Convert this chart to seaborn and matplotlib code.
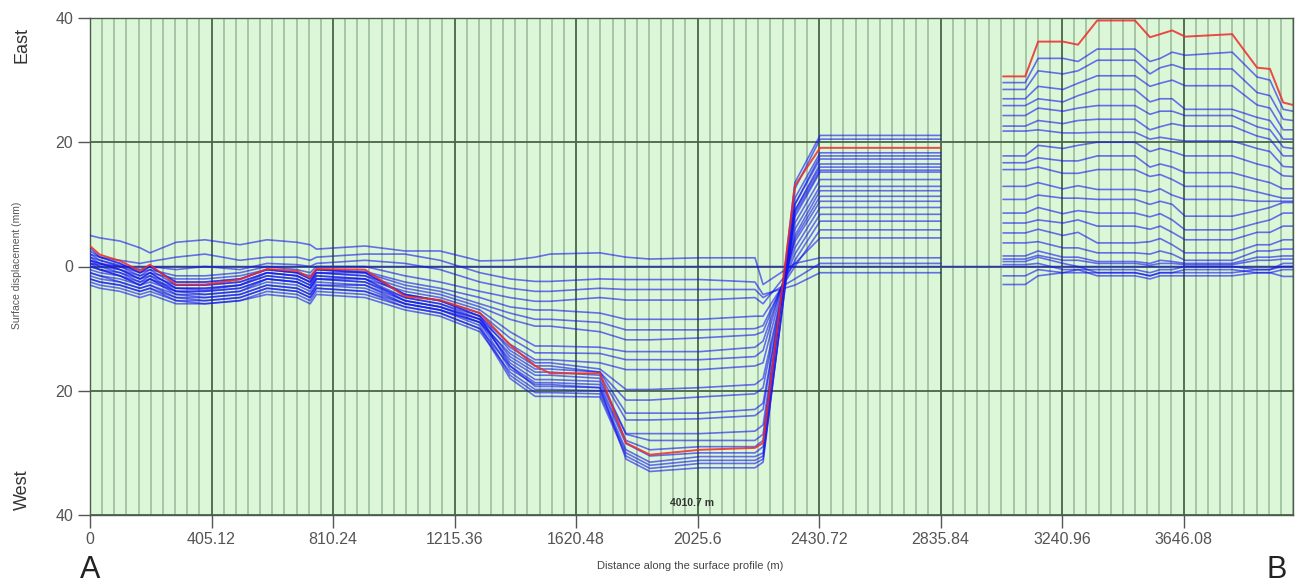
import numpy as np
import pandas as pd
import matplotlib
matplotlib.use("Agg")
import matplotlib.pyplot as plt
import seaborn as sns

# ---------------- data ----------------
# distances (m) of profile vertices, western part and eastern part
x_left = [0, 33, 100, 167, 200, 287, 383, 500, 590, 690, 734, 755, 917, 1050, 1167,
          1300, 1400, 1484, 1534, 1700, 1787, 1867, 2034, 2217, 2244, 2350, 2434, 2836]
x_gap = [2940]
x_right = [3044, 3118, 3161, 3244, 3294, 3358, 3484, 3534, 3568, 3608, 3651, 3808,
           3891, 3934, 3978, 4010.7]

# latest acquisition (red)
red_left = [3.3, 1.9, 0.9, -0.7, 0.3, -2.9, -2.9, -2.1, -0.4, -0.7, -1.8, -0.4, -0.5, -4.8,
            -5.4, -7.5, -12.6, -16.0, -17.2, -17.2, -28.4, -30.3, -29.5, -29.2, -28.4, 13.0, 19.1, 19.1]
red_right = [30.6, 30.6, 36.2, 36.2, 35.7, 39.6, 39.6, 36.9, 37.4, 38.0, 37.0, 37.4, 32.0, 31.8, 26.4, 26.0]

# reference line (continuous through the gap)
zero_left = [0.5, 0.3, 0.0, 0.0, 0.0, 0.0, 0.0, 0.0, 0.0, 0.0, 0.0, 0.0, 0.0, 0.0,
             0.0, 0.0, 0.0, 0.0, 0.0, 0.0, 0.0, 0.0, 0.0, 0.0, 0.0, 0.0, 0.0, 0.0]
zero_gap = [0.0]
zero_right = [0.0, 0.0, 0.0, 0.0, 0.0, 0.0, 0.0, 0.0, 0.0, 0.0, 0.0, 0.0, 0.0, 0.0, 0.0, 0.0]

# earlier acquisitions (blue), western part
b01_l = [5.0, 4.6, 4.1, 3.0, 2.2, 3.9, 4.3, 3.5, 4.3, 3.9, 3.5, 2.8, 3.3, 2.5, 2.5, 0.9, 1.0, 1.5, 2.0, 2.2, 1.5, 1.2, 1.4, 1.4, -2.9, 0.5, 1.4, 1.4]
b02_l = [2.0, 1.5, 1.0, 0.5, 0.8, 1.5, 2.0, 1.0, 1.5, 1.5, 1.0, 1.5, 2.0, 2.0, 1.0, -1.0, -2.0, -2.4, -2.4, -2.0, -2.1, -2.1, -2.1, -2.5, -4.5, -3.0, -1.0, -1.0]
b03_l = [1.5, 1.0, 0.2, -0.5, 0.0, -0.5, 0.0, -0.5, 0.5, 0.3, 0.0, 0.5, 1.0, 0.5, -0.5, -2.5, -3.5, -4.0, -4.0, -3.5, -3.7, -3.7, -3.7, -3.7, -5.0, -2.0, 0.5, 0.5]
b04_l = [1.0, 0.5, 0.0, -1.0, -0.5, -1.5, -1.5, -1.0, 0.0, -0.5, -1.0, 0.0, 0.0, -1.5, -2.5, -4.0, -5.0, -5.6, -5.6, -5.0, -5.4, -5.4, -5.4, -5.0, -6.0, 0.5, 4.6, 4.6]
b05_l = [0.5, 0.0, -0.5, -1.5, -1.0, -2.0, -2.0, -1.5, -0.5, -1.0, -1.5, -0.5, -0.8, -2.5, -3.5, -5.0, -6.5, -7.0, -7.0, -7.5, -8.5, -8.5, -8.5, -8.0, -8.0, 0.0, 5.9, 5.9]
b06_l = [2.5, 1.5, 0.5, -1.0, 0.0, -2.5, -2.5, -2.0, -0.5, -1.0, -2.0, -0.5, -1.0, -3.0, -4.0, -6.0, -7.5, -8.5, -8.5, -9.0, -10.2, -10.2, -10.2, -10.0, -9.5, 1.0, 7.3, 7.3]
b07_l = [0.0, -0.5, -1.0, -2.0, -1.5, -3.0, -3.0, -2.5, -1.0, -1.5, -2.5, -1.0, -1.5, -3.5, -4.5, -6.5, -8.5, -9.6, -9.6, -10.5, -11.8, -11.8, -11.5, -11.0, -10.5, 2.0, 8.4, 8.4]
b08_l = [-0.5, -1.0, -1.5, -2.5, -2.0, -3.5, -3.5, -3.0, -1.5, -2.0, -3.0, -1.5, -2.0, -4.0, -5.0, -7.0, -10.5, -12.8, -12.8, -13.0, -13.7, -13.7, -13.7, -13.0, -12.0, 3.0, 9.5, 9.5]
b09_l = [1.5, 0.5, -0.5, -2.0, -1.0, -3.5, -3.8, -3.0, -1.0, -1.5, -2.5, -1.0, -1.5, -4.5, -5.5, -7.5, -11.5, -13.9, -13.9, -14.0, -15.0, -15.0, -15.0, -14.5, -13.5, 4.0, 10.5, 10.5]
b10_l = [-1.0, -1.5, -2.0, -3.0, -2.5, -4.0, -4.0, -3.5, -2.0, -2.5, -3.5, -2.0, -2.5, -5.0, -6.0, -8.0, -12.5, -15.0, -15.0, -15.5, -16.6, -16.6, -16.6, -16.0, -15.5, 4.5, 11.3, 11.3]
b11_l = [0.0, -0.5, -1.5, -3.0, -2.0, -4.5, -4.5, -4.0, -2.5, -3.0, -4.0, -2.5, -3.0, -5.5, -6.5, -8.5, -13.0, -15.5, -15.5, -16.5, -19.8, -19.8, -19.5, -19.0, -18.0, 5.0, 12.2, 12.2]
b12_l = [2.0, 1.0, 0.0, -1.5, -0.5, -3.0, -3.0, -2.5, -1.0, -1.5, -2.5, -1.0, -1.0, -4.5, -5.5, -8.0, -13.5, -16.0, -16.0, -17.0, -21.5, -21.5, -21.0, -20.5, -19.5, 6.0, 12.9, 12.9]
b13_l = [-1.5, -2.0, -2.5, -3.5, -3.0, -4.5, -5.0, -4.5, -3.0, -3.5, -4.5, -3.0, -3.5, -6.0, -7.0, -9.0, -14.0, -16.5, -16.5, -17.0, -23.6, -23.6, -23.6, -23.0, -22.0, 7.0, 14.0, 14.0]
b14_l = [1.0, 0.0, -1.0, -2.5, -1.5, -4.0, -4.0, -3.5, -2.0, -2.5, -3.5, -2.0, -2.0, -5.0, -6.0, -8.5, -14.5, -17.0, -17.0, -17.5, -24.7, -24.7, -24.5, -24.0, -23.0, 8.0, 15.2, 15.2]
b15_l = [-2.0, -2.5, -3.0, -4.0, -3.5, -5.0, -5.5, -5.0, -3.5, -4.0, -5.0, -3.5, -4.0, -6.0, -7.0, -9.0, -15.0, -17.5, -17.5, -18.0, -26.9, -26.9, -26.9, -26.5, -25.5, 9.0, 16.5, 16.5]
b16_l = [0.5, -0.5, -1.5, -3.0, -2.0, -4.0, -4.5, -4.0, -2.0, -2.5, -3.5, -2.0, -2.5, -5.5, -6.5, -8.5, -15.5, -18.2, -18.2, -18.5, -27.0, -28.0, -28.0, -28.0, -27.0, 10.0, 17.3, 17.3]
b17_l = [-2.5, -3.0, -3.5, -4.5, -4.0, -5.5, -6.0, -5.5, -4.0, -4.5, -5.5, -4.0, -4.5, -6.5, -7.5, -10.0, -16.0, -18.7, -18.7, -19.0, -28.0, -29.5, -29.0, -29.0, -28.0, 11.0, 18.3, 18.3]
b18_l = [3.0, 1.5, 0.5, -1.0, 0.0, -2.5, -2.5, -2.0, -0.5, -1.0, -2.0, -0.5, -1.0, -4.5, -5.5, -8.0, -16.0, -19.3, -19.3, -19.5, -28.5, -30.5, -30.0, -30.0, -29.0, 12.5, 20.5, 20.5]
b19_l = [-3.0, -3.5, -4.0, -5.0, -4.5, -6.0, -6.0, -5.5, -4.5, -5.0, -6.0, -4.5, -5.0, -7.0, -8.0, -10.5, -17.0, -19.8, -19.8, -20.0, -29.5, -31.5, -30.6, -30.6, -30.0, 13.5, 21.1, 21.1]
b20_l = [-1.0, -1.5, -2.5, -3.5, -3.0, -5.0, -5.0, -4.5, -3.0, -3.5, -4.5, -3.0, -3.0, -6.0, -7.0, -9.5, -17.5, -20.3, -20.3, -20.5, -30.0, -32.0, -31.2, -31.2, -30.5, 8.5, 15.5, 15.5]
b21_l = [-2.0, -2.5, -3.0, -4.0, -3.5, -5.5, -5.5, -5.0, -3.5, -4.0, -5.0, -3.5, -4.0, -6.5, -7.5, -10.0, -18.0, -20.9, -20.9, -21.0, -30.5, -32.5, -31.7, -31.7, -31.0, 9.0, 16.0, 16.0]
b22_l = [1.0, 0.5, -0.5, -2.0, -1.0, -3.5, -3.5, -3.0, -1.5, -2.0, -3.0, -1.5, -2.0, -5.5, -6.5, -9.0, -16.5, -19.0, -19.0, -19.5, -31.0, -33.0, -32.4, -32.4, -31.5, 10.0, 17.8, 17.8]

# earlier acquisitions (blue), eastern part
b01_r = [1.2, 1.2, 1.8, 1.0, 1.0, 0.5, 0.5, 0.2, 0.5, 0.5, 0.3, 0.3, 1.0, 1.0, 1.2, 1.2]
b02_r = [-2.9, -2.9, -1.5, -1.0, -0.5, -0.5, -0.5, -1.0, -0.5, -0.5, 0.0, 0.0, -0.5, -0.5, 0.0, 0.0]
b03_r = [-1.5, -1.5, -0.5, -1.0, -1.0, -1.0, -1.0, -1.5, -1.0, -1.0, -0.5, -0.5, -1.0, -1.0, -0.5, -0.5]
b04_r = [0.3, 0.3, 0.5, -0.5, -0.5, -1.5, -1.5, -2.0, -1.5, -1.5, -1.5, -1.5, -1.0, -1.0, -1.6, -1.6]
b05_r = [0.8, 0.8, 1.5, 0.5, 0.0, -1.0, -1.0, -1.5, -1.0, -1.0, -1.0, -1.0, -0.5, -0.5, 0.5, 0.5]
b06_r = [1.7, 1.7, 2.5, 1.5, 1.5, 0.8, 0.8, 0.5, 1.0, 0.8, 0.5, 0.5, 1.5, 1.5, 1.7, 1.7]
b07_r = [3.8, 3.8, 4.0, 3.0, 3.0, 2.2, 2.2, 2.0, 2.5, 2.0, 1.0, 1.0, 2.5, 2.5, 2.8, 2.8]
b08_r = [5.4, 5.4, 6.0, 5.0, 5.5, 3.8, 3.8, 4.0, 4.5, 3.5, 2.2, 2.2, 3.5, 3.5, 4.3, 4.3]
b09_r = [7.0, 7.0, 7.5, 7.0, 7.5, 6.5, 6.5, 6.0, 6.5, 5.5, 4.3, 4.3, 5.5, 5.5, 6.5, 6.5]
b10_r = [8.6, 8.6, 9.5, 8.5, 9.0, 8.6, 8.6, 8.0, 8.5, 7.5, 5.9, 5.9, 7.0, 7.5, 8.6, 8.6]
b11_r = [10.8, 10.8, 11.5, 11.0, 11.0, 10.8, 10.8, 10.0, 10.5, 10.0, 8.1, 8.1, 9.0, 9.5, 10.3, 10.3]
b12_r = [12.9, 12.9, 13.5, 12.5, 13.0, 12.4, 12.4, 12.0, 12.5, 11.5, 10.8, 10.8, 10.5, 10.5, 10.5, 10.5]
b13_r = [15.6, 15.6, 16.0, 15.0, 15.0, 15.6, 15.6, 14.5, 14.8, 14.0, 12.9, 12.9, 12.0, 11.5, 11.0, 11.0]
b14_r = [16.7, 16.7, 17.5, 17.0, 17.0, 17.8, 17.8, 16.0, 16.5, 16.0, 15.1, 15.1, 14.0, 13.5, 12.5, 12.5]
b15_r = [17.8, 17.8, 19.5, 19.0, 19.5, 20.0, 20.0, 18.5, 19.0, 18.5, 17.8, 17.8, 16.5, 16.0, 14.6, 14.5]
b16_r = [21.8, 21.8, 22.0, 21.5, 21.5, 21.6, 21.6, 20.5, 20.8, 20.5, 20.2, 20.2, 19.0, 18.5, 16.1, 16.0]
b17_r = [22.6, 22.6, 23.5, 23.0, 23.5, 23.7, 23.7, 22.0, 22.5, 23.0, 22.6, 22.6, 21.0, 20.5, 17.8, 17.8]
b18_r = [24.3, 24.3, 25.5, 25.0, 25.5, 25.9, 25.9, 24.5, 25.0, 25.0, 24.3, 24.3, 22.5, 22.0, 19.2, 19.0]
b19_r = [25.9, 25.9, 27.0, 26.5, 27.5, 28.5, 28.5, 26.5, 27.0, 27.0, 25.3, 25.3, 24.0, 23.5, 20.5, 20.5]
b20_r = [27.0, 27.0, 29.0, 28.5, 29.5, 30.7, 30.7, 29.0, 29.5, 30.0, 29.1, 29.1, 26.0, 25.5, 22.0, 22.0]
b21_r = [28.5, 28.5, 31.5, 31.0, 31.5, 33.2, 33.2, 31.0, 32.0, 32.5, 31.8, 31.8, 28.0, 27.5, 23.7, 23.5]
b22_r = [29.6, 29.6, 33.5, 33.5, 33.0, 35.0, 35.0, 33.0, 33.5, 34.5, 34.0, 34.5, 30.5, 30.0, 25.3, 25.0]

x_tick_values = [0, 405.12, 810.24, 1215.36, 1620.48, 2025.6, 2430.72, 2835.84, 3240.96, 3646.08]
x_tick_labels = ["0", "405.12", "810.24", "1215.36", "1620.48", "2025.6", "2430.72",
                 "2835.84", "3240.96", "3646.08"]
y_tick_values = [-40, -20, 0, 20, 40]
y_tick_labels = ["40", "20", "0", "20", "40"]
profile_length = 4010.7

# --------------- assemble long-form table ---------------
blue_left = [b01_l, b02_l, b03_l, b04_l, b05_l, b06_l, b07_l, b08_l, b09_l, b10_l, b11_l,
             b12_l, b13_l, b14_l, b15_l, b16_l, b17_l, b18_l, b19_l, b20_l, b21_l, b22_l]
blue_right = [b01_r, b02_r, b03_r, b04_r, b05_r, b06_r, b07_r, b08_r, b09_r, b10_r, b11_r,
              b12_r, b13_r, b14_r, b15_r, b16_r, b17_r, b18_r, b19_r, b20_r, b21_r, b22_r]

rows = []
def add(unit, kind, xs, ys):
    for xv, yv in zip(xs, ys):
        rows.append({"unit": unit, "kind": kind, "dist": xv, "disp": yv})

add("zero", "blue", x_left + x_gap + x_right, zero_left + zero_gap + zero_right)
for i, (bl, br) in enumerate(zip(blue_left, blue_right)):
    add(f"b{i}_L", "blue", x_left, bl)
    add(f"b{i}_R", "blue", x_right, br)
add("red_L", "red", x_left, red_left)
add("red_R", "red", x_right, red_right)
df = pd.DataFrame(rows)

# --------------- figure ---------------
sns.set_style("white")
plt.rcParams["font.family"] = ["Liberation Sans Narrow", "Liberation Sans", "DejaVu Sans"]

W, H = 1297, 586
fig = plt.figure(figsize=(W / 100, H / 100), dpi=100)
ax = fig.add_axes([90 / W, 1 - 515 / H, (1293 - 90) / W, (515 - 18) / H])
ax.set_facecolor("#dbf7d8")

blue_df = df[df["kind"] == "blue"]
red_df = df[df["kind"] == "red"]
sns.lineplot(data=blue_df, x="dist", y="disp", units="unit", estimator=None, sort=False,
             color="#1414f0", alpha=0.6, linewidth=1.2, ax=ax, legend=False, zorder=3)
sns.lineplot(data=red_df, x="dist", y="disp", units="unit", estimator=None, sort=False,
             color="#ee2a2a", alpha=0.85, linewidth=1.4, ax=ax, legend=False, zorder=4)

ax.set_xlim(0, profile_length)
ax.set_ylim(-40, 40)
ax.set_xticks(x_tick_values)
ax.set_xticklabels(x_tick_labels)
ax.set_xticks(np.arange(0, profile_length, 40.512), minor=True)
ax.set_yticks(y_tick_values)
ax.set_yticklabels(y_tick_labels)

ax.set_axisbelow(True)
ax.grid(which="minor", axis="x", color="#a6c4a6", linewidth=1.4, zorder=1)
ax.grid(which="major", axis="both", color="#48644a", linewidth=1.3, zorder=2)
ax.tick_params(which="minor", length=0)
ax.tick_params(which="major", length=9, width=1, color="#555555", labelcolor="#555555",
               labelsize=11.5, direction="out", pad=3)
ax.tick_params(axis="both", which="major", bottom=True, left=True)
for s in ax.spines.values():
    s.set_color("#4a5e4a")
    s.set_linewidth(1.0)

ax.set_xlabel("")
ax.set_ylabel("")

fig.text(690 / W, 1 - 566 / H, "Distance along the surface profile (m)", ha="center",
         va="center", fontsize=8, color="#444444")
fig.text(17 / W, 1 - 265 / H, "Surface displacement (mm)", rotation=90, ha="center",
         va="center", fontsize=7.5, color="#555555")
fig.text(22 / W, 1 - 45 / H, "East", rotation=90, ha="center", va="center", fontsize=13,
         color="#333333")
fig.text(22 / W, 1 - 490 / H, "West", rotation=90, ha="center", va="center", fontsize=13,
         color="#333333")
fig.text(90 / W, 1 - 570 / H, "A", ha="center", va="center", fontsize=22, color="#222222")
fig.text(1277 / W, 1 - 570 / H, "B", ha="center", va="center", fontsize=22, color="#222222")
ax.text(0.5, 0.015, f"{profile_length} m", transform=ax.transAxes, ha="center", va="bottom",
        fontsize=7.5, fontweight="bold", color="#333333")

fig.savefig("out.png", dpi=100, facecolor="white")
